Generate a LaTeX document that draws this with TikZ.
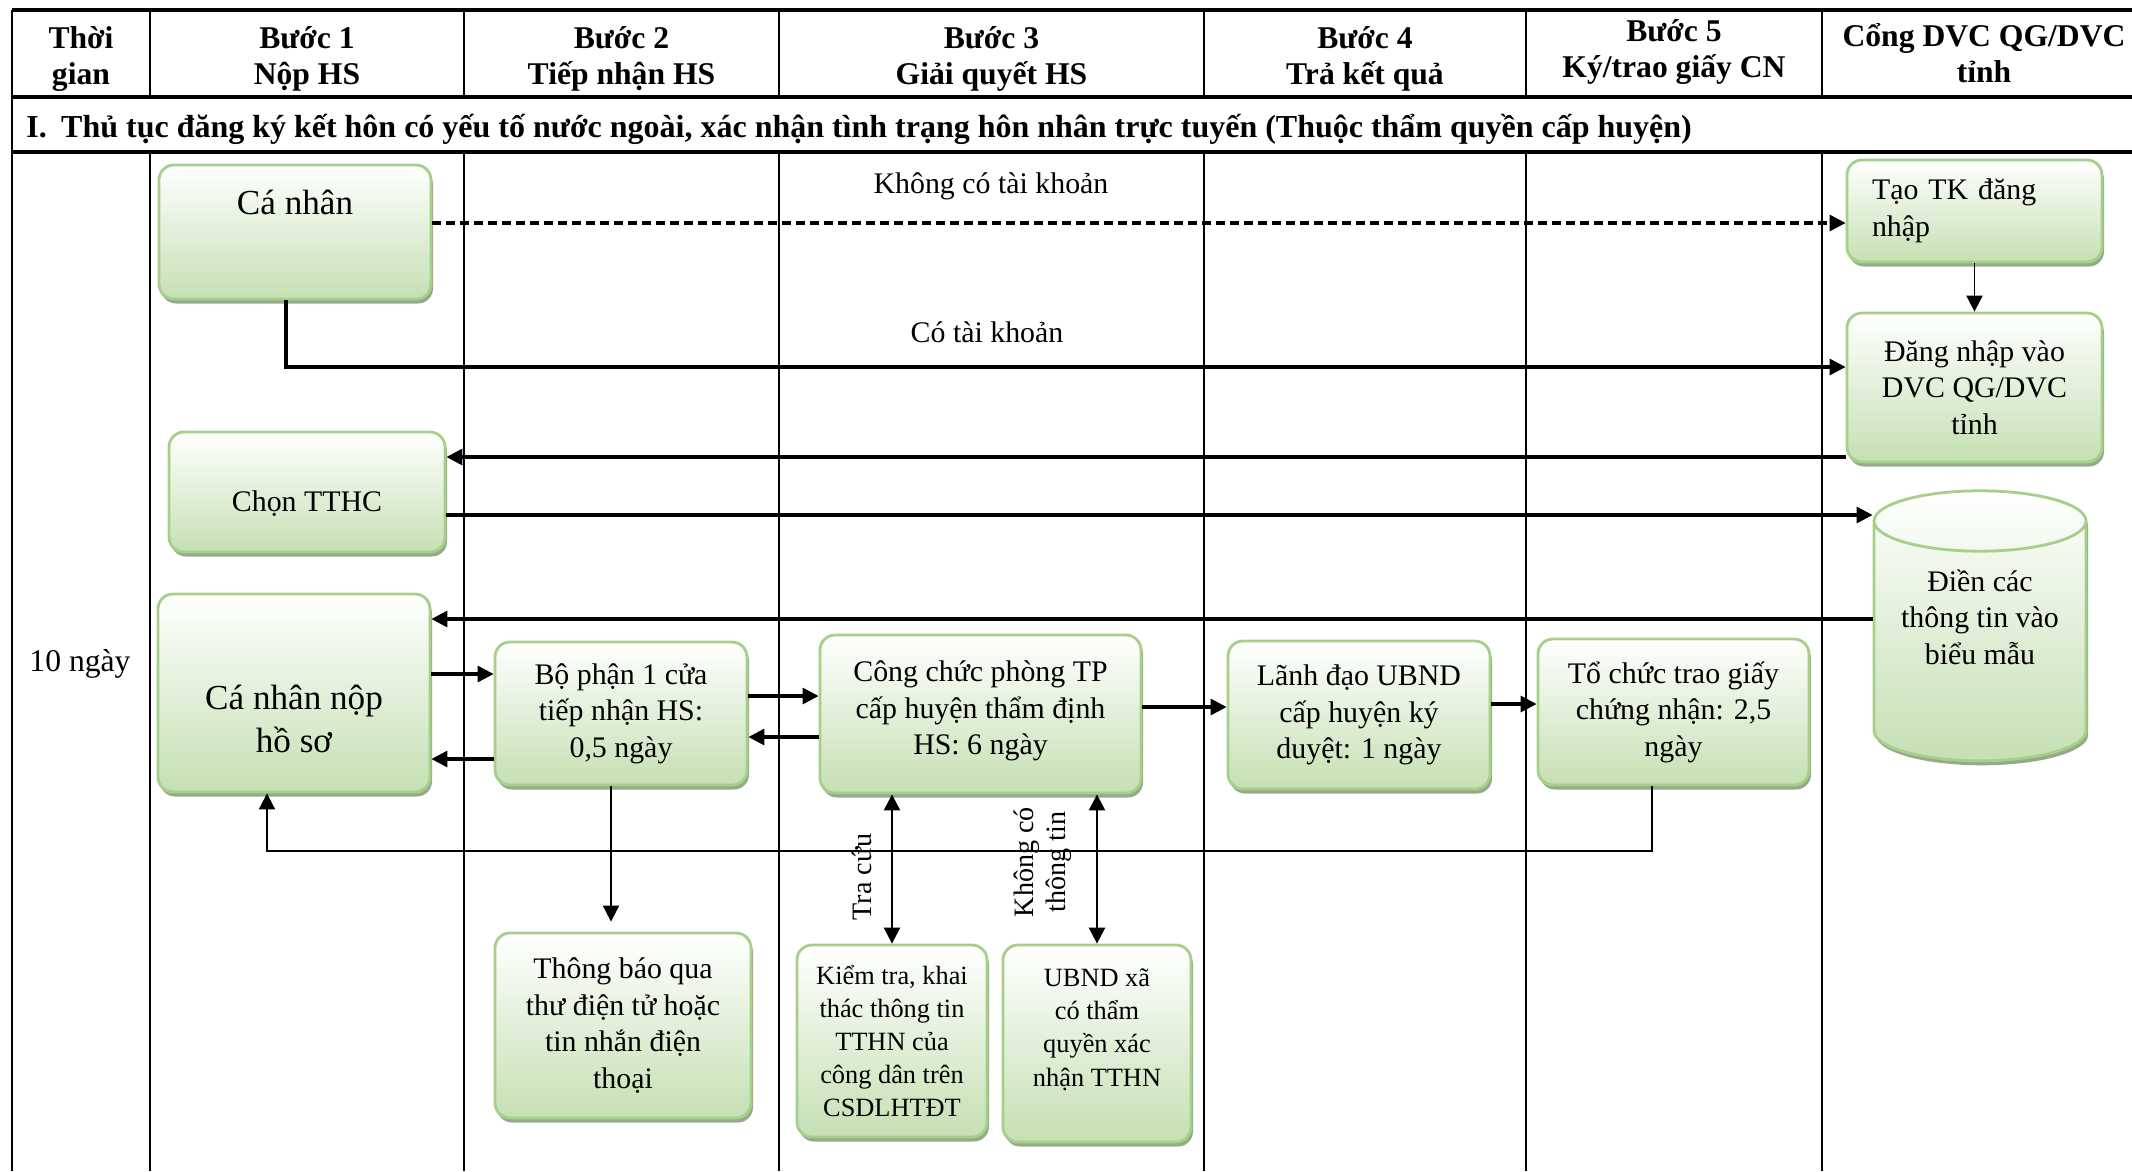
\documentclass[tikz,border=0pt]{standalone}
\usepackage{fontspec}
\setmainfont{Liberation Serif}
\usetikzlibrary{arrows.meta,shapes.geometric,shadows}
\definecolor{boxfill}{RGB}{197,224,179}
\definecolor{boxline}{RGB}{166,207,138}
\definecolor{boxshadow}{RGB}{150,170,138}

\begin{document}
\begin{tikzpicture}[
    gbox/.style={rectangle, rounded corners=0.15cm, draw=boxline, line width=0.8pt,
        top color=white, bottom color=boxfill, align=center, inner sep=0.1cm,
        drop shadow={shadow xshift=0.02cm, shadow yshift=-0.045cm, fill=boxshadow, opacity=1},
        font=\fontsize{8.5}{10.4}\selectfont},
    head/.style={font=\bfseries\fontsize{9}{10.4}\selectfont, align=center},
    rule/.style={line width=1.2pt},
    grid/.style={line width=0.5pt},
    flow/.style={-{Triangle[length=1.6mm, width=1.6mm]}, line width=0.9pt},
    thinflow/.style={-{Triangle[length=1.6mm, width=1.6mm]}, line width=0.55pt},
    twoway/.style={{Triangle[length=1.6mm, width=1.6mm]}-{Triangle[length=1.6mm, width=1.6mm]}, line width=0.7pt},
    dashflow/.style={flow, dash pattern=on 0.9mm off 0.5mm},
    note/.style={font=\fontsize{8.5}{10.4}\selectfont, align=center},
    sidenote/.style={font=\fontsize{8}{9}\selectfont, align=center, rotate=90}
]
    \useasboundingbox (0,0) rectangle (21.32,-11.71);

    % Table
    \draw[rule] (0.12,-0.10) -- (21.32,-0.10);
    \draw[rule] (0.12,-0.97) -- (21.32,-0.97);
    \draw[rule] (0.12,-1.52) -- (21.32,-1.52);
    \draw[grid] (0.12,-0.10) -- (0.12,-11.71);
    \foreach \x in {1.50,4.64,7.79,12.04,15.26,18.22}{
        \draw[grid] (\x,-0.10) -- (\x,-0.97);
        \draw[grid] (\x,-1.52) -- (\x,-11.71);
    }

    % Header
    \node[head] (hthoigian) at (0.81,-0.59) {Thời\\gian};
    \node[head] (hbuoc1) at (3.07,-0.59) {Bước 1\\Nộp HS};
    \node[head] (hbuoc2) at (6.215,-0.59) {Bước 2\\Tiếp nhận HS};
    \node[head] (hbuoc3) at (9.915,-0.59) {Bước 3\\Giải quyết HS};
    \node[head] (hbuoc4) at (13.65,-0.59) {Bước 4\\Trả kết quả};
    \node[head] (hbuoc5) at (16.74,-0.52) {Bước 5\\Ký/trao giấy CN};
    \node[head] (hcong) at (19.84,-0.53) {Cổng DVC QG/DVC\\tỉnh};
    \node[head, anchor=west, font=\bfseries\fontsize{9.1}{10.4}\selectfont] (title) at (0.14,-1.295) {I.\hspace{0.45em}Thủ tục đăng ký kết hôn có yếu tố nước ngoài, xác nhận tình trạng hôn nhân trực tuyến (Thuộc thẩm quyền cấp huyện)};

    % Boxes
    \node[gbox, minimum width=2.72cm, minimum height=1.34cm, text height=0.39cm, text depth=0.75cm,
        font=\fontsize{10}{12}\selectfont] (canhan) at (2.95,-2.32) {Cá nhân};
    \node[gbox, minimum width=2.55cm, minimum height=1.02cm, text width=2.05cm, inner xsep=0.25cm,
        align=left] (taotk) at (19.745,-2.11) {Tạo TK đăng\\nhập};
    \node[gbox, minimum width=2.55cm, minimum height=1.49cm] (dangnhap) at (19.745,-3.875) {Đăng nhập vào\\DVC QG/DVC\\tỉnh};
    \node[gbox, minimum width=2.76cm, minimum height=1.20cm, text height=0.69cm, text depth=0.31cm] (chon) at (3.07,-4.92) {Chọn TTHC};
    \node[gbox, cylinder, sharp corners, shape border rotate=90, aspect=0.34, minimum width=2.12cm,
        minimum height=2.70cm, text depth=0.62cm] (dien) at (19.80,-6.48) {Điền các\\thông tin vào\\biểu mẫu};
    \node[gbox, minimum width=2.72cm, minimum height=1.98cm, text height=1.48cm, text depth=0.30cm,
        font=\fontsize{10}{12}\selectfont] (canhannop) at (2.94,-6.93) {Cá nhân nộp\\hồ sơ};
    \node[gbox, minimum width=2.52cm, minimum height=1.43cm] (bophan) at (6.21,-7.135) {Bộ phận 1 cửa\\tiếp nhận HS:\\0,5 ngày};
    \node[gbox, minimum width=3.21cm, minimum height=1.58cm, text depth=0.12cm] (congchuc) at (9.805,-7.14) {Công chức phòng TP\\cấp huyện thẩm định\\HS: 6 ngày};
    \node[gbox, minimum width=2.62cm, minimum height=1.48cm] (lanhdao) at (13.59,-7.15) {Lãnh đạo UBND\\cấp huyện ký\\duyệt: 1 ngày};
    \node[gbox, minimum width=2.71cm, minimum height=1.46cm] (tochuc) at (16.735,-7.12) {Tổ chức trao giấy\\chứng nhận: 2,5\\ngày};
    \node[gbox, minimum width=2.56cm, minimum height=1.85cm] (thongbao) at (6.23,-10.255) {Thông báo qua\\thư điện tử hoặc\\tin nhắn điện\\thoại};
    \node[gbox, minimum width=1.90cm, minimum height=1.92cm, font=\fontsize{7.5}{9.4}\selectfont] (kiemtra) at (8.92,-10.41) {Kiểm tra, khai\\thác thông tin\\TTHN của\\công dân trên\\CSDLHTĐT};
    \node[gbox, minimum width=1.88cm, minimum height=1.97cm, text height=1.31cm, text depth=0.46cm,
        font=\fontsize{7.5}{9.4}\selectfont] (ubndxa) at (10.97,-10.435) {UBND xã\\có thẩm\\quyền xác\\nhận TTHN};

    % Connectors
    \draw[dashflow] (canhan.east |- 0,-2.23) -- (taotk.west |- 0,-2.23);
    \draw[flow] ([xshift=-0.09cm]canhan.south) |- (dangnhap.west |- 0,-3.67);
    \draw[thinflow] (taotk.south) -- (dangnhap.north);
    \draw[flow] (dangnhap.west |- 0,-4.57) -- (chon.east |- 0,-4.57);
    \draw[flow] (chon.east |- 0,-5.15) -- (dien.west |- 0,-5.15);
    \draw[flow] (dien.west |- 0,-6.19) -- (canhannop.east |- 0,-6.19);
    \draw[flow] (canhannop.east |- 0,-6.74) -- (bophan.west |- 0,-6.74);
    \draw[flow] (bophan.west |- 0,-7.59) -- (canhannop.east |- 0,-7.59);
    \draw[flow] (bophan.east |- 0,-6.96) -- (congchuc.west |- 0,-6.96);
    \draw[flow] (congchuc.west |- 0,-7.37) -- (bophan.east |- 0,-7.37);
    \draw[flow] (congchuc.east |- 0,-7.07) -- (lanhdao.west |- 0,-7.07);
    \draw[flow] (lanhdao.east |- 0,-7.04) -- (tochuc.west |- 0,-7.04);
    \draw[thinflow] (tochuc.south -| 16.52,0) -- ++(0,-0.65) -| (canhannop.south -| 2.67,0);
    \draw[thinflow, shorten >=0.1cm] (bophan.south -| 6.11,0) -- (thongbao.north -| 6.11,0);
    \draw[twoway] (kiemtra.north |- congchuc.south) -- (kiemtra.north);
    \draw[twoway] (ubndxa.north |- congchuc.south) -- (ubndxa.north);

    % Labels
    \node[note] (khongtk) at (9.91,-1.86) {Không có tài khoản};
    \node[note] (cotk) at (9.87,-3.32) {Có tài khoản};
    \node[note, font=\fontsize{9}{10.4}\selectfont] (songay) at (0.80,-6.64) {10 ngày};
    \node[sidenote] (tracuu) at (8.62,-8.77) {Tra cứu};
    \node[sidenote] (khongtt) at (10.43,-8.62) {Không có\\thông tin};

\end{tikzpicture}
\end{document}
